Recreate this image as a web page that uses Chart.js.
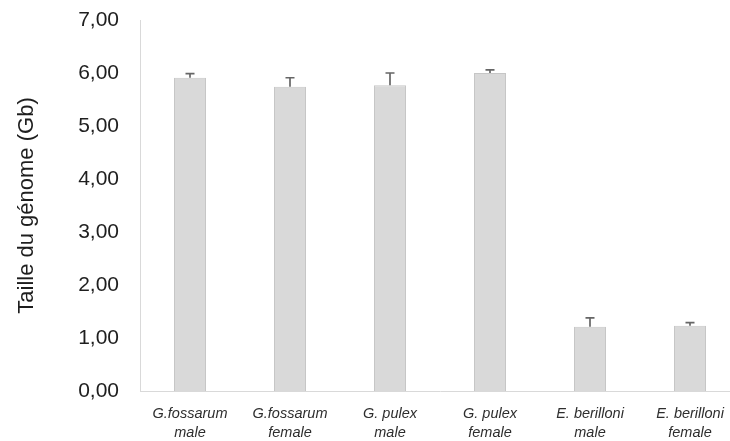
<!DOCTYPE html>
<html>
<head>
<meta charset="utf-8">
<script src="https://cdn.jsdelivr.net/npm/chart.js@4/dist/chart.umd.min.js"></script>
<style>
html,body{margin:0;padding:0;background:#fff;overflow:hidden;}
#wrap{width:740px;height:441px;position:relative;}
</style>
</head>
<body>
<div id="wrap"><canvas id="c" width="740" height="441"></canvas></div>
<script>
const categories = [
  ["G.fossarum", "male"],
  ["G.fossarum", "female"],
  ["G. pulex", "male"],
  ["G. pulex", "female"],
  ["E. berilloni", "male"],
  ["E. berilloni", "female"]
];
const genomeSize = [5.91, 5.74, 5.77, 6.00, 1.21, 1.23];
const errorValues = [0.08, 0.17, 0.23, 0.06, 0.17, 0.06];
const yTicks = [0, 1, 2, 3, 4, 5, 6, 7];

const errorBarPlugin = {
  id: 'errorBars',
  afterDatasetsDraw(chart) {
    const ctx = chart.ctx;
    const meta = chart.getDatasetMeta(0);
    const y = chart.scales.y;
    ctx.save();
    ctx.strokeStyle = '#666666';
    ctx.lineWidth = 1.7;
    meta.data.forEach((bar, i) => {
      const top = y.getPixelForValue(genomeSize[i] + errorValues[i]);
      const base = y.getPixelForValue(genomeSize[i]);
      ctx.beginPath();
      ctx.moveTo(bar.x, base);
      ctx.lineTo(bar.x, top);
      ctx.moveTo(bar.x - 4.5, top);
      ctx.lineTo(bar.x + 4.5, top);
      ctx.stroke();
    });
    ctx.restore();
  }
};

new Chart(document.getElementById('c'), {
  type: 'bar',
  data: {
    labels: categories,
    datasets: [{
      data: genomeSize,
      backgroundColor: '#d9d9d9',
      borderColor: '#c6c6c6',
      borderWidth: 1,
      barPercentage: 0.32,
      categoryPercentage: 1.0
    }]
  },
  options: {
    responsive: false,
    animation: false,
    devicePixelRatio: 1,
    layout: { padding: { top: 20, right: 0, bottom: 0, left: 0 } },
    plugins: { legend: { display: false }, tooltip: { enabled: false } },
    scales: {
      x: {
        offset: true,
        grid: { display: false, drawTicks: false },
        border: { display: true, color: '#d9d9d9', width: 1 },
        ticks: {
          color: '#2e2e2e',
          font: { family: 'Liberation Sans', size: 14.5, style: 'italic', lineHeight: 1.3 },
          padding: 14,
          maxRotation: 0,
          autoSkip: false
        },
        afterFit(s) { s.height = 50; }
      },
      y: {
        min: 0,
        max: 7,
        afterBuildTicks(s) { s.ticks = yTicks.map(v => ({ value: v })); },
        grid: { display: false, drawTicks: false },
        border: { display: true, color: '#d9d9d9', width: 1 },
        ticks: {
          color: '#1e1e1e',
          font: { family: 'Liberation Sans', size: 21 },
          padding: 21,
          callback: v => Number(v).toFixed(2).replace('.', ',')
        },
        title: {
          display: true,
          text: 'Taille du génome (Gb)',
          color: '#1e1e1e',
          font: { family: 'Liberation Sans', size: 22 },
          padding: { top: 14, bottom: 0 }
        },
        afterFit(s) { s.width = 140; s.paddingTop = 0; s.paddingBottom = 0; }
      }
    }
  },
  plugins: [errorBarPlugin]
});
</script>
</body>
</html>
